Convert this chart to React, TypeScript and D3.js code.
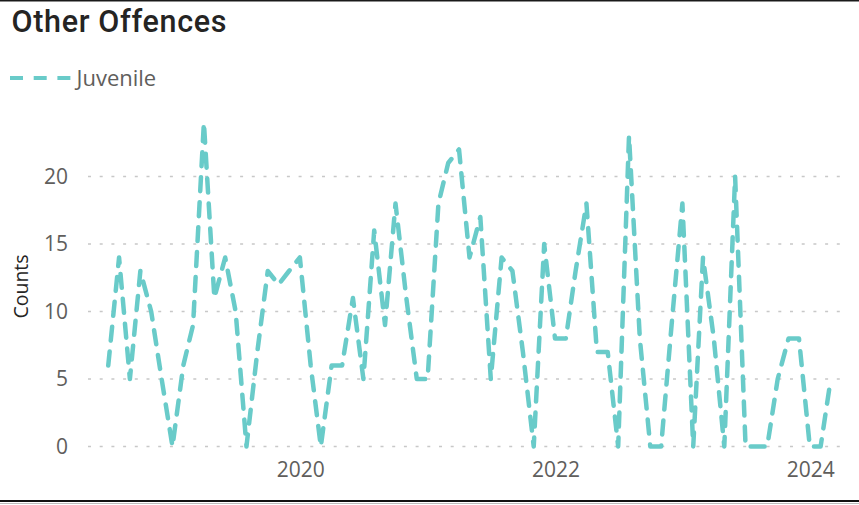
import React from "react";
import * as d3 from "d3";

const startMonth = "2018-07";
const values: number[] = [
  6, 14, 5, 13, 10, 5, // 2018-07 .. 2018-12
  0, 6, 9, 24, 11, 14, 10, 0, 7, 13, 12, 13, // 2019
  14, 6, 0, 6, 6, 11, 5, 16, 9, 18, 11, 5, // 2020
  5, 18, 21, 22, 14, 17, 5, 14, 13, 7, 0, 15, // 2021
  8, 8, 13, 18, 7, 7, 0, 23, 8, 0, 0, 9, // 2022
  18, 0, 14, 8, 0, 20, 0, 0, 0, 5, 8, 8, // 2023
  0, 0, 5, // 2024-01 .. 2024-03
];
const yTicks = [0, 5, 10, 15, 20];
const xTickYears = [2020, 2022, 2024];
const title = "Other Offences";
const seriesName = "Juvenile";
const yAxisTitle = "Counts";

const W = 859;
const H = 505;
const LINE_COLOR = "#69CBC9";
const TEXT_GREY = "#605E5C";
const TEXT_DARK = "#252423";
const FONT = "'Segoe UI', 'Open Sans', sans-serif";

const parseMonth = d3.timeParse("%Y-%m");
const start = parseMonth(startMonth) as Date;
const data = values.map((v, i) => ({ date: d3.timeMonth.offset(start, i), value: v }));

export default function App() {
  const x = d3
    .scaleTime()
    .domain([data[0].date, data[data.length - 1].date])
    .range([108.25, 830.75]);
  const y = d3.scaleLinear().domain([0, 20]).range([446.5, 176.5]);

  const line = d3
    .line<{ date: Date; value: number }>()
    .x((d) => x(d.date))
    .y((d) => y(d.value));

  return (
    <svg
      width={W}
      height={H}
      style={{ position: "absolute", left: 0, top: 0, background: "#fff" }}
      fontFamily={FONT}
    >
      {/* frame lines */}
      <line x1={0} x2={W} y1={0.75} y2={0.75} stroke="#1a1a1a" strokeWidth={1.5} />
      <line x1={0} x2={W} y1={501} y2={501} stroke="#111" strokeWidth={2} />
      <line x1={0} x2={W} y1={503.5} y2={503.5} stroke="#bdbdbd" strokeWidth={1} />

      {/* title */}
      <text
        x={11.5}
        y={31.5}
        fontSize={30.5}
        fontWeight={500}
        fill={TEXT_DARK}
        fontFamily="'Roboto', sans-serif"
        textLength={215}
        lengthAdjust="spacing"
      >
        {title}
      </text>

      {/* legend */}
      <line
        x1={10}
        x2={71}
        y1={78}
        y2={78}
        stroke={LINE_COLOR}
        strokeWidth={4}
        strokeDasharray="13 10.7"
      />
      <text x={76.5} y={86} fontSize={22} fill={TEXT_GREY}>
        {seriesName}
      </text>

      {/* gridlines and y ticks */}
      {yTicks.map((t) => (
        <g key={t}>
          <line
            x1={88}
            x2={848}
            y1={y(t)}
            y2={y(t)}
            stroke="#C8C8C8"
            strokeWidth={1.3}
            strokeDasharray="3 8.7"
          />
          <text x={68} y={y(t)} dy="0.35em" textAnchor="end" fontSize={21} fill={TEXT_GREY}>
            {t}
          </text>
        </g>
      ))}

      {/* y axis title */}
      <text
        transform={`translate(27.5, 286.5) rotate(-90)`}
        textAnchor="middle"
        fontSize={19.5}
        fill={TEXT_DARK}
      >
        {yAxisTitle}
      </text>

      {/* x ticks */}
      {xTickYears.map((yr) => (
        <text
          key={yr}
          x={x(new Date(yr, 0, 1)) + 1}
          y={477}
          textAnchor="middle"
          fontSize={21}
          fill={TEXT_GREY}
        >
          {yr}
        </text>
      ))}

      {/* series line */}
      <path
        d={line(data) || ""}
        fill="none"
        stroke={LINE_COLOR}
        strokeWidth={4.5}
        strokeLinecap="round"
        strokeLinejoin="round"
        strokeDasharray="14 11"
      />
    </svg>
  );
}
